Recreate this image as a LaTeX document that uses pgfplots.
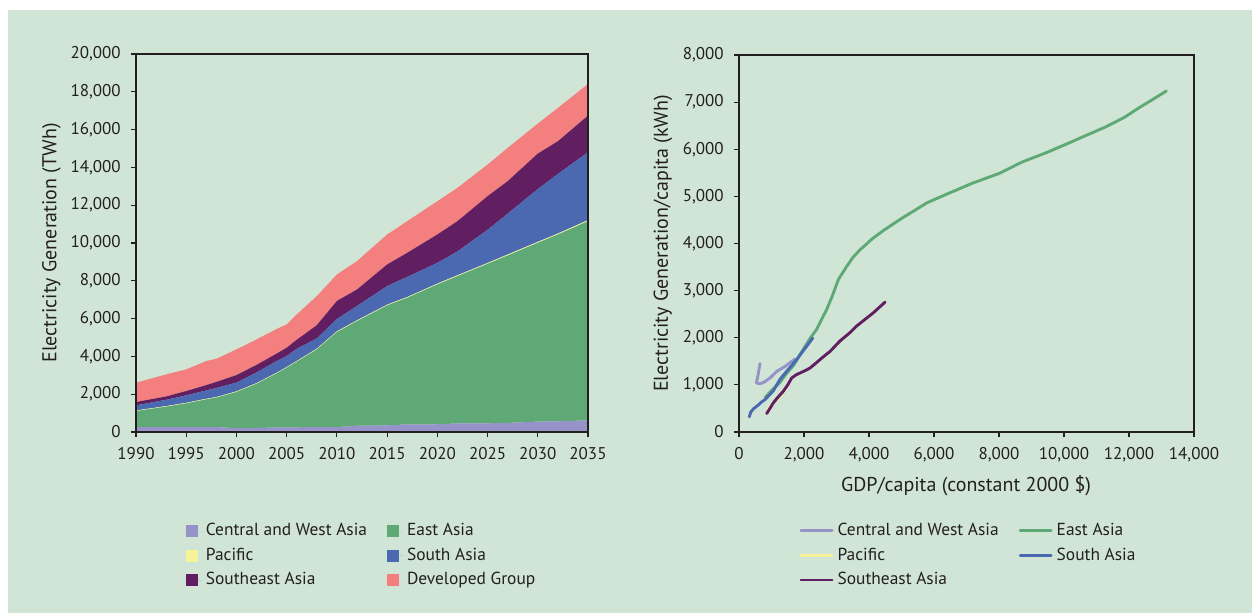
\documentclass[border=0pt]{standalone}
\usepackage{pgfplots}
\usepackage{pgfplotstable}
\pgfplotsset{compat=1.18}
\usepackage{fontspec}
\setmainfont{PT Sans}
\definecolor{bg}{RGB}{209,229,215}
\definecolor{txt}{RGB}{35,31,32}
\definecolor{cwa}{RGB}{149,147,200}
\definecolor{eas}{RGB}{94,169,118}
\definecolor{pac}{RGB}{245,242,154}
\definecolor{sas}{RGB}{74,105,176}
\definecolor{sea}{RGB}{97,31,98}
\definecolor{dev}{RGB}{244,127,127}

\pgfplotstableread{
year cwa eas pac sas sea dev
1990 260 850 30 270 176 1022
1993 260 1079 30 331 180 1168
1995 260 1255 30 393 229 1146
1997 260 1467 30 443 280 1273
1998 260 1560 30 480 320 1224
2000 200 1915 35 458 400 1362
2002 210 2340 35 565 400 1350
2004 240 2860 35 615 400 1300
2005 250 3151 35 582 440 1234
2006 250 3470 35 645 480 1340
2008 260 4110 40 540 700 1539
2010 260 5026 40 650 960 1399
2012 330 5538 40 760 870 1502
2015 350 6346 40 982 1145 1586
2017 400 6701 40 1059 1280 1674
2020 410 7396 45 1099 1499 1762
2022 450 7797 45 1258 1604 1762
2025 460 8439 45 1756 1776 1674
2027 480 8859 50 2161 1719 1762
2030 550 9459 50 2791 1881 1586
2032 560 9889 50 3151 1733 1762
2035 620 10534 55 3591 1940 1674
}\stacktab

\pgfplotsset{
  mystyle/.style={
    scale only axis,
    axis line style={line width=1pt, txt},
    tick style={line width=0.6pt, txt},
    major tick length=2.6pt,
    tick align=outside,
    tick pos=left,
    ticklabel style={font=\fontsize{8.5}{10}\selectfont, text=txt},
    xticklabel style={yshift=-1.5pt},
    yticklabel style={xshift=-1.5pt},
    /pgf/number format/assume math mode=true,
    label style={font=\fontsize{8.6}{10}\selectfont, text=txt},
    legend columns=2,
    legend cell align=left,
    legend style={draw=none, fill=none, font=\fontsize{8.7}{10}\selectfont, text=txt,
      anchor=north west, inner sep=0pt, row sep=0.6pt,
      /tikz/every even column/.append style={column sep=8pt}},
  }
}

\begin{document}
\color{txt}
\begin{tikzpicture}
\path[use as bounding box, fill=white] (0pt,0pt) rectangle (626pt,306.5pt);
\fill[bg] (4pt,0pt) rectangle (626pt,301.5pt);

\begin{axis}[mystyle,
  at={(68pt,90.5pt)}, anchor=south west,
  width=226pt, height=189pt,
  xmin=1990, xmax=2035, ymin=0, ymax=20000,
  xtick={1990,1995,...,2035},
  ytick={0,2000,...,20000},
  xticklabel style={/pgf/number format/1000 sep=},
  yticklabel style={/pgf/number format/1000 sep={,}},
  scaled ticks=false,
  stack plots=y, area style, axis on top,
  every axis y label/.style={at={(axis description cs:-0.187,0.5)}, rotate=90, anchor=center},
  ylabel={Electricity Generation (TWh)},
  legend style={at={(axis description cs:0.1095,-0.230)}},
  legend image code/.code={\fill[#1] (0pt,-3pt) rectangle (6pt,3pt); \path (0pt,0pt) -- (8pt,0pt);},
]
\addplot[fill=cwa, draw=none] table[x=year,y=cwa]{\stacktab} \closedcycle;
\addlegendentry{Central and West Asia}
\addplot[fill=eas, draw=none] table[x=year,y=eas]{\stacktab} \closedcycle;
\addlegendentry{East Asia}
\addplot[fill=pac, draw=none] table[x=year,y=pac]{\stacktab} \closedcycle;
\addlegendentry{Pacific}
\addplot[fill=sas, draw=none] table[x=year,y=sas]{\stacktab} \closedcycle;
\addlegendentry{South Asia}
\addplot[fill=sea, draw=none] table[x=year,y=sea]{\stacktab} \closedcycle;
\addlegendentry{Southeast Asia}
\addplot[fill=dev, draw=none] table[x=year,y=dev]{\stacktab} \closedcycle;
\addlegendentry{Developed Group}
\end{axis}

\begin{axis}[mystyle,
  at={(369.5pt,90.5pt)}, anchor=south west,
  width=227.5pt, height=188.5pt,
  xmin=0, xmax=14000, ymin=0, ymax=8000,
  xtick={0,2000,...,14000},
  ytick={0,1000,...,8000},
  ticklabel style={/pgf/number format/1000 sep={,}},
  scaled ticks=false,
  every axis y label/.style={at={(axis description cs:-0.167,0.5)}, rotate=90, anchor=center},
  every axis x label/.style={at={(axis description cs:0.499,-0.142)}, anchor=center},
  ylabel={Electricity Generation/capita (kWh)},
  xlabel={GDP/capita (constant 2000 \$)},
  legend style={at={(axis description cs:0.1325,-0.230)}},
  legend image code/.code={\draw[#1, line width=1.3pt] (0pt,0pt) -- (14.5pt,0pt); \path (0pt,0pt) -- (15.5pt,0pt);},
  every axis plot/.append style={line width=1.45pt, line join=round, line cap=round, mark=none},
]
\addplot[cwa] coordinates {(646,1452) (600,1260) (560,1120) (535,1050) (594,1025) (700,1035) (800,1070) (954,1146) (1160,1286) (1415,1391) (1621,1497) (1723,1548)};
\addlegendentry{Central and West Asia}
\addplot[eas] coordinates {(800,730) (1000,880) (1262,1055) (1470,1250) (1672,1406) (1980,1758) (2200,2000) (2391,2179) (2550,2400) (2698,2601) (2850,2850) (3057,3234) (3300,3500) (3500,3700) (3700,3850) (4100,4100) (4467,4287) (5006,4534) (5400,4700) (5789,4866) (6451,5065) (7172,5277) (8013,5489) (8734,5736) (9455,5927) (10176,6140) (10779,6324) (11260,6466) (11860,6678) (12283,6869) (12702,7045) (13148,7236)};
\addlegendentry{East Asia}
\addplot[pac] coordinates {(880,470) (960,540) (1050,610) (1150,680) (1260,760) (1350,830) (1450,920)};
\addlegendentry{Pacific}
\addplot[sas] coordinates {(317,321) (360,420) (441,490) (595,574) (700,640) (800,686) (1057,875) (1262,1120) (1518,1330) (1775,1540) (2083,1820) (2268,1991)};
\addlegendentry{South Asia}
\addplot[sea] coordinates {(852,391) (950,500) (1055,617) (1200,740) (1363,863) (1500,1000) (1621,1146) (1750,1210) (1877,1252) (2030,1300) (2185,1357) (2391,1476) (2600,1600) (2800,1709) (3109,1933) (3400,2100) (3622,2250) (4135,2531) (4494,2756)};
\addlegendentry{Southeast Asia}
\end{axis}
\end{tikzpicture}
\end{document}
